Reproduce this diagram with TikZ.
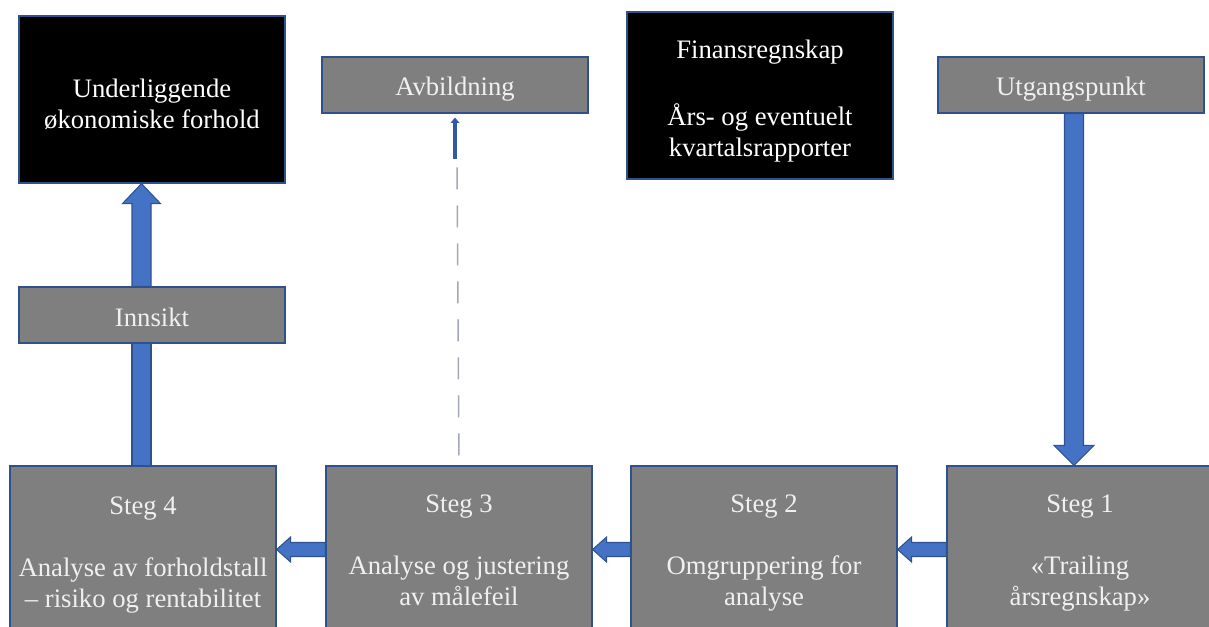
\documentclass[tikz,border=0pt]{standalone}
\usepackage{fontspec}
\setmainfont{Liberation Serif}
\usetikzlibrary{calc,arrows.meta}
\definecolor{boxgray}{HTML}{7F7F7F}
\definecolor{edgeblue}{HTML}{2F528F}
\definecolor{arrowblue}{HTML}{4472C4}
\definecolor{dashgray}{HTML}{A3A8B8}
\definecolor{pointerblue}{HTML}{2E5AA6}
\begin{document}
\begin{tikzpicture}[x=0.75pt,y=-0.75pt,
  box/.style={draw=edgeblue, line width=0.9pt, inner sep=0pt, minimum width=199.5pt},
  graybox/.style={box, fill=boxgray},
  blackbox/.style={box, fill=black},
  shortbox/.style={minimum height=42pt},
  tallbox/.style={minimum height=125.25pt},
  lbl/.style={inner sep=0pt, align=center, yshift=-3.4pt,
    font=\fontsize{20}{23.25}\selectfont},
  graylbl/.style={lbl, text=white!94!black},
  blacklbl/.style={lbl, text=white},
  blockarrow/.style={fill=arrowblue, draw=edgeblue, line width=0.8pt, line join=miter}]
\useasboundingbox (0,0) rectangle (1209,626);
\clip (0,0) rectangle (1209,626);

% top row
\node[blackbox, tallbox] (und) at (152,99.5) {};
\node[graybox, shortbox] (avb) at (455,85) {};
\node[blackbox, tallbox] (fin) at (760,95.5) {};
\node[graybox, shortbox] (utg) at (1071,85) {};

% middle
\node[graybox, shortbox] (ins) at (152,315) {};

% bottom row of steps
\node[graybox, tallbox] (s4) at (143,549.5) {};
\node[graybox, tallbox] (s3) at (459,549.5) {};
\node[graybox, tallbox] (s2) at (764,549.5) {};
\node[graybox, tallbox] (s1) at (1080,549.5) {};

% box texts
\node[blacklbl] (und-t) at (und.center) {Underliggende\\økonomiske forhold};
\node[graylbl] (avb-t) at (avb.center) {Avbildning};
\node[blacklbl, yshift=-0.6pt] (fin-t) at (fin.center) {Finansregnskap\\[2pt]\mbox{}\\[2pt]Års- og eventuelt\\kvartalsrapporter};
\node[graylbl] (utg-t) at (utg.center) {Utgangspunkt};
\node[graylbl, yshift=1.6pt] (ins-t) at (ins.center) {Innsikt};
\node[graylbl, yshift=-0.8pt] (s4-t) at (s4.center) {Steg 4\\\mbox{}\\Analyse av forholdstall\\– risiko og rentabilitet};
\node[graylbl, yshift=-0.8pt] (s3-t) at (s3.center) {Steg 3\\\mbox{}\\Analyse og justering\\av målefeil\strut};
\node[graylbl, yshift=-0.8pt] (s2-t) at (s2.center) {Steg 2\\\mbox{}\\Omgruppering for\\analyse\strut};
\node[graylbl, yshift=-0.8pt] (s1-t) at (s1.center) {Steg 1\\\mbox{}\\«Trailing\\årsregnskap»\strut};

% Innsikt -> Underliggende
\coordinate (a1s) at ($(ins.north)+(-10.5,0)$);
\coordinate (a1e) at ($(und.south)+(-10.5,0)$);
\draw[blockarrow] ($(a1s)+(-9.5,0)$) -- ($(a1e)+(-9.5,20)$) -- ($(a1e)+(-19,20)$) -- (a1e)
  -- ($(a1e)+(19,20)$) -- ($(a1e)+(9.5,20)$) -- ($(a1s)+(9.5,0)$) -- cycle;

% Steg 4 -> Innsikt (shaft only)
\draw[blockarrow] ($(s4.north)+(-11,0)$) rectangle ($(ins.south)+(-1,0)$);

% Utgangspunkt -> Steg 1
\coordinate (a3s) at ($(utg.south)+(3,0)$);
\coordinate (a3e) at ($(s1.north)+(-6,0)$);
\draw[blockarrow] ($(a3s)+(-9.5,0)$) -- ($(a3e)+(-9.5,-20)$) -- ($(a3e)+(-20,-20)$) -- (a3e)
  -- ($(a3e)+(20,-20)$) -- ($(a3e)+(9.5,-20)$) -- ($(a3s)+(9.5,0)$) -- cycle;

% step-to-step arrows
\foreach \a/\b in {s1/s2, s2/s3, s3/s4}{
  \draw[blockarrow] ($(\a.west)+(0,-7)$) -- ($(\b.east)+(14,-7)$) -- ($(\b.east)+(14,-12.5)$)
    -- (\b.east) -- ($(\b.east)+(14,12.5)$) -- ($(\b.east)+(14,7)$) -- ($(\a.west)+(0,7)$) -- cycle;
}

% Steg 3 -> Avbildning (dashed)
\coordinate (dtop) at ($(avb.south)+(2,47)$);
\draw[dashgray, line width=1.2pt, dash pattern=on 16.5pt off 12pt, dash phase=21pt] (s3.north) -- (dtop);
\draw[pointerblue, line width=3pt, -{Triangle[width=6.5pt,length=4pt]}] ($(avb.south)+(0,45)$) -- ($(avb.south)+(0,4)$);
\end{tikzpicture}
\end{document}
